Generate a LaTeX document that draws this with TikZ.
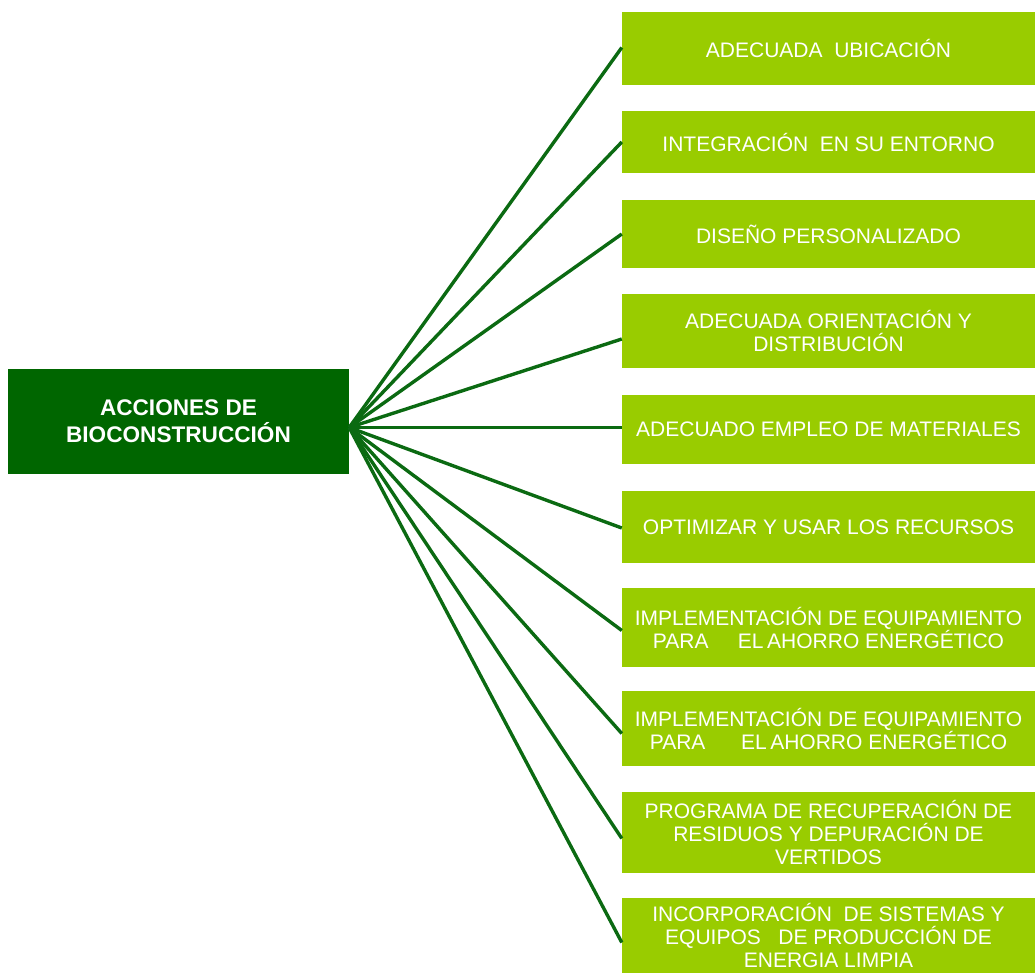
\documentclass[tikz,border=0pt]{standalone}
\usepackage{fontspec}
\setmainfont{Liberation Sans}
\usetikzlibrary{%
    positioning
}
\definecolor{verdeoscuro}{HTML}{006600}
\definecolor{verdeclaro}{HTML}{99CC00}
\definecolor{verdelinea}{HTML}{0B6A12}

\begin{document}
\begin{tikzpicture}[x=1pt, y=-1pt,
        principal/.style={fill=verdeoscuro, text=white, align=center,
                          font=\bfseries\fontsize{22.6}{27}\selectfont,
                          minimum width=341pt, minimum height=105pt, inner sep=0pt},
        accion/.style={fill=verdeclaro, text=white, align=center,
                       font=\fontsize{21}{23}\selectfont,
                       minimum width=413pt, inner sep=0pt},
        rama/.style={draw=verdelinea, line width=3.4pt}
       ]
    \useasboundingbox (0,0) rectangle (1035,973);

    \node (raiz) [principal] at (178.5,421.5) {ACCIONES DE\\BIOCONSTRUCCIÓN};
    \coordinate (centro) at ([yshift=-6pt]raiz.east);

    \foreach \Name/\Y/\H/\Text in {%
        ubicacion/48.5/73/{ADECUADA\ \ UBICACIÓN},
        entorno/142/62/{INTEGRACIÓN\ \ EN SU ENTORNO},
        diseno/234/68/{DISEÑO PERSONALIZADO},
        orientacion/331/74/{ADECUADA ORIENTACIÓN Y\\DISTRIBUCIÓN},
        materiales/429.5/69/{ADECUADO EMPLEO DE MATERIALES},
        recursos/527/72/{OPTIMIZAR Y USAR LOS RECURSOS},
        ahorroA/627.5/79/{IMPLEMENTACIÓN DE EQUIPAMIENTO\\PARA\hspace{1.4em}EL\,AHORRO ENERGÉTICO},
        ahorroB/728.5/75/{IMPLEMENTACIÓN DE EQUIPAMIENTO\\PARA\hspace{1.7em}EL\,AHORRO ENERGÉTICO},
        residuos/832.5/81/{PROGRAMA DE RECUPERACIÓN DE\\RESIDUOS Y DEPURACIÓN DE\\VERTIDOS},
        energia/935.5/75/{INCORPORACIÓN\ \ DE SISTEMAS Y\\EQUIPOS\ \ \ DE PRODUCCIÓN DE\\ENERGIA LIMPIA}%
        }
        \node (\Name) [accion, minimum height=\H pt] at (828.5,\Y) {\Text};

    % las ramas llegan algo por debajo del centro en las cajas bajas
    \foreach \Name/\Dy in {ubicacion/1,entorno/0,diseno/0,orientacion/-8,materiales/2,
                           recursos/-1,ahorroA/-3,ahorroB/-5,residuos/-6,energia/-7}
        \draw[rama] (centro) -- ([yshift=\Dy pt]\Name.west);
\end{tikzpicture}
\end{document}
